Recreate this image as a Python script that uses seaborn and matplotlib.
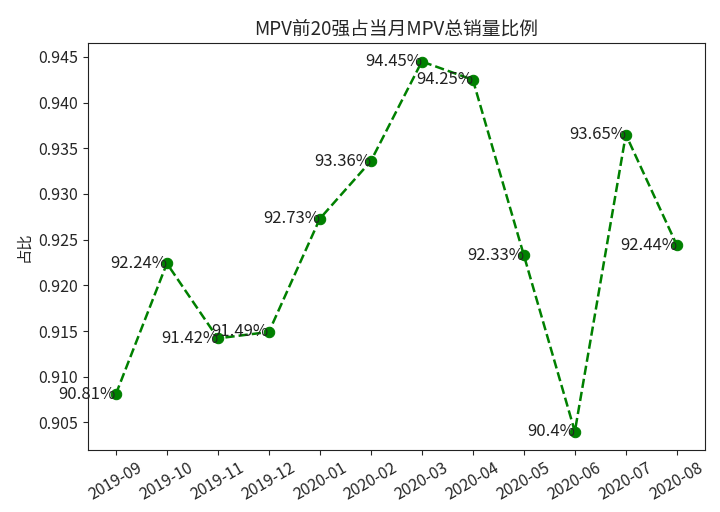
import matplotlib
matplotlib.use("Agg")
import matplotlib.pyplot as plt
import seaborn as sns
import pandas as pd

months = ["2019-09", "2019-10", "2019-11", "2019-12", "2020-01", "2020-02",
          "2020-03", "2020-04", "2020-05", "2020-06", "2020-07", "2020-08"]
ratios = [0.9081, 0.9224, 0.9142, 0.9149, 0.9273, 0.9336,
          0.9445, 0.9425, 0.9233, 0.9040, 0.9365, 0.9244]
labels = ["90.81%", "92.24%", "91.42%", "91.49%", "92.73%", "93.36%",
          "94.45%", "94.25%", "92.33%", "90.4%", "93.65%", "92.44%"]

sns.set_style("ticks")
plt.rcParams['font.family'] = ['Noto Sans CJK SC', 'DejaVu Sans']
plt.rcParams['axes.unicode_minus'] = False

df = pd.DataFrame({"month": months, "ratio": ratios})

fig = plt.figure(figsize=(7.2, 5.12), dpi=100)
ax = fig.add_axes([0.122, 0.121, 0.857, 0.795])
sns.lineplot(data=df, x="month", y="ratio", ax=ax, color="green",
             linestyle="--", linewidth=1.8, marker="o", markersize=7.5,
             markeredgecolor="green", markerfacecolor="green", sort=False)

for i, (v, t) in enumerate(zip(ratios, labels)):
    ax.text(i, v, t, ha="right", va="center", fontsize=12, color="#222222")

ax.set_title("MPV前20强占当月MPV总销量比例", fontsize=13.5)
ax.set_ylabel("占比", fontsize=11)
ax.set_xlabel("")
ax.tick_params(axis="both", labelsize=11.5)
ax.tick_params(axis="x", rotation=30)
for s in ax.spines.values():
    s.set_visible(True)
    s.set_color("#222222")

fig.savefig("out.png", dpi=100)
